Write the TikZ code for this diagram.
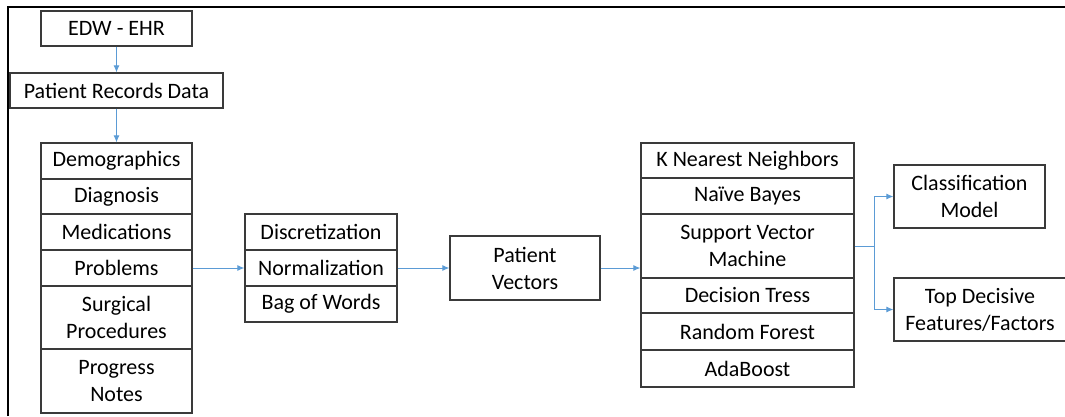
\documentclass[tikz,border=0pt]{standalone}
\usepackage{fontspec}
\setmainfont{Carlito}
\usepackage{xcolor}
\usepackage{tikz}
\usetikzlibrary{arrows.meta,positioning,calc}
\definecolor{flowblue}{HTML}{5B9BD5}
\definecolor{boxgray}{HTML}{3A3A3A}

\begin{document}
\begin{tikzpicture}[x=1pt, y=-1pt,
  box/.style={draw=boxgray, line width=1.3pt, inner sep=0pt, align=center,
    font=\fontsize{22}{27}\selectfont},
  link/.style={draw=flowblue, line width=0.9pt},
  arrow/.style={link, -{Latex[length=7pt, width=6pt]}}]
  \useasboundingbox (0,0) rectangle (1065,416);
  \draw[line width=2pt] (8,416) -- (8,7) -- (1066,7);
  % sources
  \node[box, minimum width=151, minimum height=35] (edw) at (116.5,28.5) {EDW - EHR};
  \node[box, minimum width=213, minimum height=35] (records) at (116.5,90.5) {Patient Records Data};
  % record fields
  \node[box, minimum width=151, minimum height=36] (demo) at (116.5,161) {Demographics};
  \node[box, minimum width=151, minimum height=35] (diag) at (116.5,196.5) {Diagnosis};
  \node[box, minimum width=151, minimum height=36] (meds) at (116.5,232) {Medications};
  \node[box, minimum width=151, minimum height=36] (probs) at (116.5,268) {Problems};
  \node[box, minimum width=151, minimum height=63] (surg) at (116.5,317.5) {Surgical\\Procedures};
  \node[box, minimum width=151, minimum height=64] (notes) at (116.5,381) {Progress\\Notes};
  % preprocessing
  \node[box, minimum width=152, minimum height=36] (disc) at (321,232) {Discretization};
  \node[box, minimum width=152, minimum height=36] (norm) at (321,268) {Normalization};
  \node[box, minimum width=152, minimum height=36] (bow) at (321,304) {Bag of Words};
  \node[box, minimum width=150, minimum height=64] (vec) at (525,268) {Patient\\Vectors};
  % classifiers
  \node[box, minimum width=213, minimum height=35] (knn) at (747.5,160.5) {K Nearest Neighbors};
  \node[box, minimum width=213, minimum height=36] (nb) at (747.5,196) {Naïve Bayes};
  \node[box, minimum width=213, minimum height=64] (svm) at (747.5,246) {Support Vector\\Machine};
  \node[box, minimum width=213, minimum height=35] (dt) at (747.5,295.5) {Decision Tress};
  \node[box, minimum width=213, minimum height=37] (rf) at (747.5,331.5) {Random Forest};
  \node[box, minimum width=213, minimum height=37] (ada) at (747.5,368.5) {AdaBoost};
  % outputs
  \node[box, minimum width=151, minimum height=63] (model) at (969.5,196.5) {Classification\\Model};
  \node[box, minimum width=172, minimum height=63] (factors) at (980,309.5) {Top Decisive\\Features/Factors};
  \coordinate (fork) at (874,246);
  \draw[arrow] (edw) -- (records);
  \draw[arrow] (records) -- (demo);
  \draw[arrow] (probs.east) -- (norm.west);
  \draw[arrow] (norm.east) -- (vec.west);
  \draw[arrow] (vec.east) -- (vec.east -| svm.west);
  \draw[link] (svm.east) -- (fork);
  \draw[arrow] (fork) |- (model.west);
  \draw[arrow] (fork) |- (factors.west);
\end{tikzpicture}
\end{document}
